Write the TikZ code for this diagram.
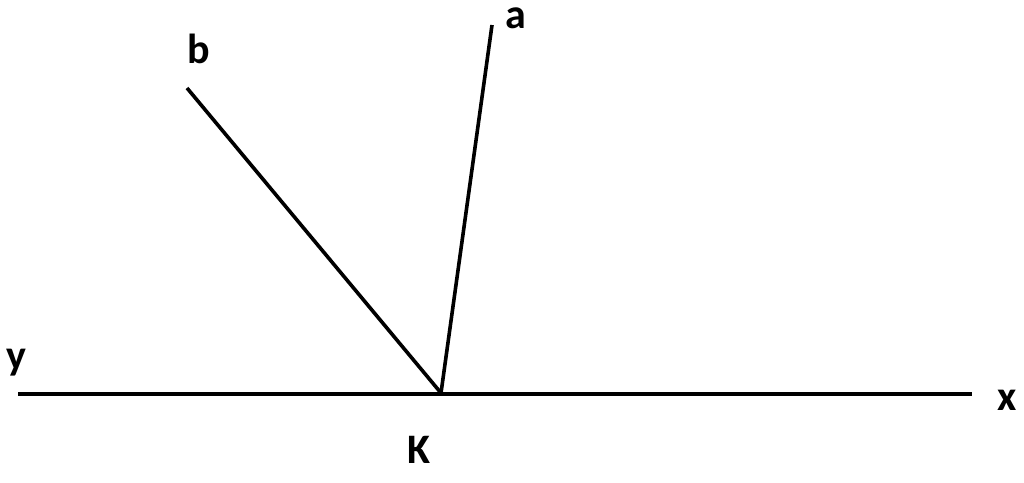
\documentclass[tikz,border=0pt]{standalone}
\usepackage{fontspec}
\setmainfont{Carlito}
\usepackage{tikz}
\usetikzlibrary{positioning,calc}

\begin{document}
\begin{tikzpicture}[x=1pt,y=-1pt,
ray/.style={
draw=black,
line width=3.6pt,
},
letter/.style={
font=\fontsize{42}{42}\selectfont\bfseries,
inner sep=0pt,
anchor=base,
}
]
\useasboundingbox (0,0) rectangle (1024,482);
\coordinate (K) at (441,393);
\coordinate (aEnd) at (492,25);
\coordinate (bEnd) at (187,88);
\coordinate (yEnd) at (18,394);
\coordinate (xEnd) at (972,394);

\node [letter] (aLabel) at (516,28) {a};
\node [letter] (bLabel) at (199,63) {b};
\node [letter] (yLabel) at (16,369) {y};
\node [letter] (xLabel) at (1007,410) {x};
\node [letter] (KLabel) at (419,463) {K};

\draw[ray] (yEnd) -- (xEnd);
\foreach \j in {aEnd,bEnd}
		\draw[ray] (K) -- (\j);
\end{tikzpicture}
\end{document}
